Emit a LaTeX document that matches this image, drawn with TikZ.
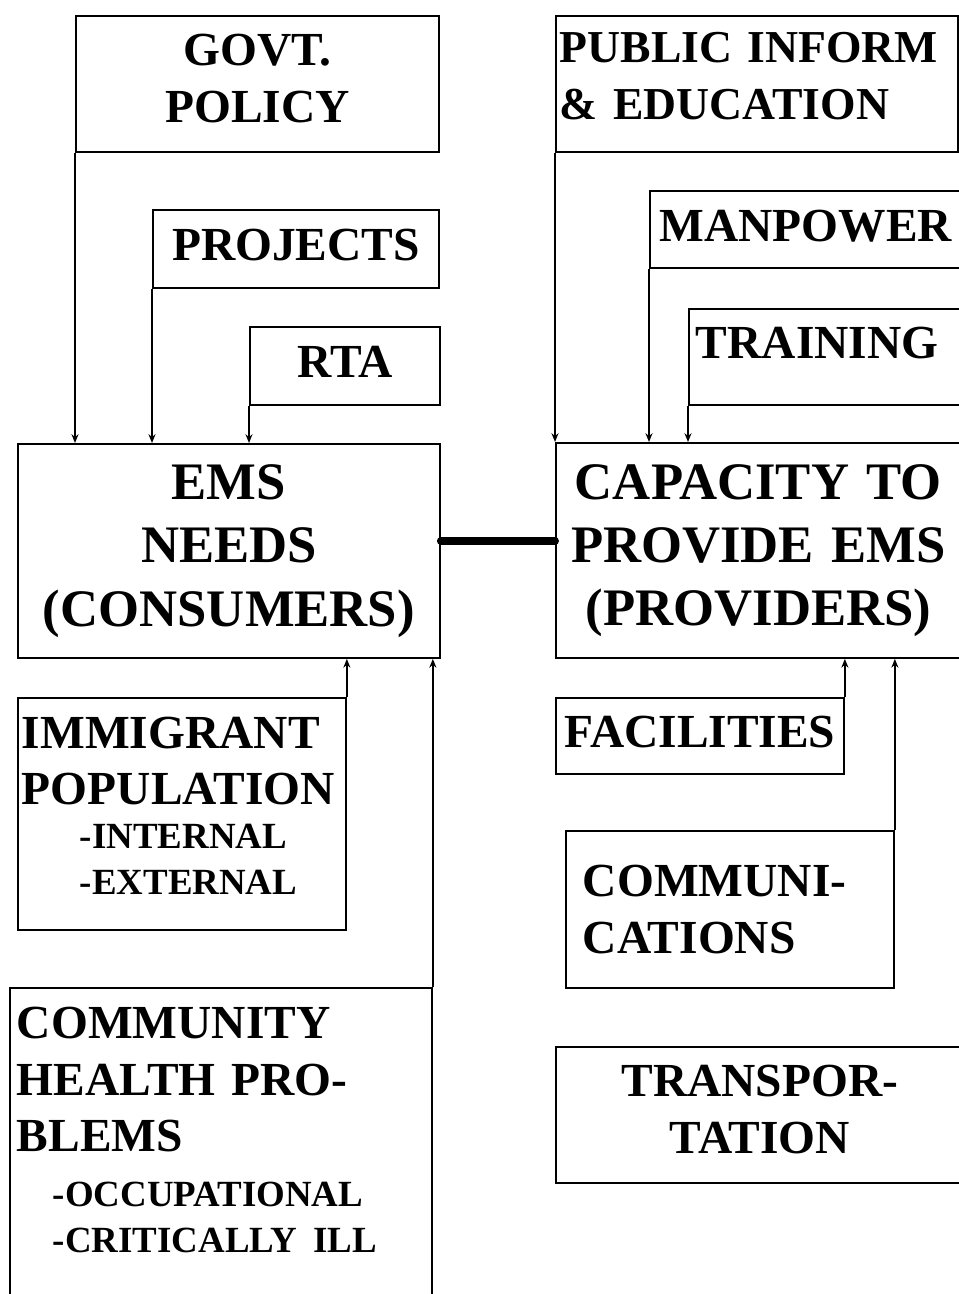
\documentclass[tikz,border=0pt]{standalone}
\usepackage{fontspec}
\setmainfont{Liberation Serif}
\usetikzlibrary{arrows.meta}
\newcommand\bigtext{\fontsize{30}{36}\selectfont\bfseries}
\newcommand\midtext{\fontsize{27}{32.3}\selectfont\bfseries}
\newcommand\subtext{\fontsize{21}{26}\selectfont\bfseries}

\begin{document}
\begin{tikzpicture}[x=0.02cm,y=-0.02cm,
    box/.style={draw,line width=1.1pt,anchor=north west,inner sep=0.1cm,font=\midtext},
    feed/.style={-{Stealth[length=5pt,width=4pt]},line width=0.8pt},
    link/.style={line width=4.5pt,line cap=round}]
  \useasboundingbox (0,0) rectangle (959,1294);
  \clip (0,0) rectangle (959,1294);

  \node[box,minimum width=7.26cm,minimum height=2.72cm,align=center,text depth=0.24cm] (1) at (75,15) {GOVT.\\POLICY};
  \node[box,minimum width=5.72cm,minimum height=1.56cm,text depth=0.16cm] (2) at (152,209) {PROJECTS};
  \node[box,minimum width=3.8cm,minimum height=1.56cm,text depth=0.16cm] (3) at (249,326) {RTA};
  \node[box,minimum width=8.44cm,minimum height=4.28cm,align=center,font=\bigtext] (4) at (17,443)
    {EMS\\NEEDS\\(CONSUMERS)};

  \node[box,text width=7.88cm,inner xsep=0.08cm,minimum height=2.72cm,align=left,text depth=1.46cm,
    font={\fontsize{26}{32.3}\selectfont\bfseries}] (5) at (555,15) {PUBLIC INFORM\\\& EDUCATION};
  \node[box,minimum width=6.24cm,minimum height=1.54cm,text depth=0.16cm] (6) at (649,190) {MANPOWER};
  \node[box,text width=6.0cm,inner xsep=0.14cm,minimum height=1.92cm,align=left,text depth=0.56cm] (7) at (688,308) {TRAINING};
  \node[box,text width=7.9cm,minimum height=4.3cm,align=center,font=\bigtext] (8) at (555,442)
    {CAPACITY TO\\PROVIDE EMS\\(PROVIDERS)};

  \node[box,minimum width=5.76cm,minimum height=1.52cm,text depth=0.16cm] (9) at (555,697) {FACILITIES};
  \node[box,text width=5.88cm,inner xsep=0.34cm,minimum height=3.14cm,align=left] (10) at (565,830)
    {COMMUNI-\\CATIONS};
  \node[box,minimum width=8.16cm,minimum height=2.72cm,align=center,text depth=0.24cm] (11) at (555,1046) {TRANSPOR-\\TATION};

  \node[box,text width=6.4cm,inner xsep=0.08cm,minimum height=4.64cm,align=left,text depth=3.26cm] (12) at (17,697)
    {IMMIGRANT\\POPULATION\\[-0.26cm]{\subtext\hspace*{1.16cm}-INTERNAL}\\[-0.22cm]{\subtext\hspace*{1.16cm}-EXTERNAL}};
  \node[box,text width=8.16cm,inner xsep=0.14cm,inner ysep=0.38cm,align=left] (13) at (9,987)
    {COMMUNITY\\HEALTH PRO-\\BLEMS\\[-0.04cm]{\subtext\hspace*{0.72cm}-OCCUPATIONAL}\\[-0.22cm]{\subtext\hspace*{0.72cm}-CRITICALLY ILL}\\[2cm]\mbox{}};

  \draw[feed] (1.south west) -- (1.south west |- 4.north);
  \draw[feed] (2.south west) -- (2.south west |- 4.north);
  \draw[feed] (3.south west) -- (3.south west |- 4.north);
  \draw[feed] (5.south west) -- (5.south west |- 8.north);
  \draw[feed] (6.south west) -- (6.south west |- 8.north);
  \draw[feed] (7.south west) -- (7.south west |- 8.north);
  \draw[feed] (12.north east) -- (12.north east |- 4.south);
  \draw[feed] (13.north east) -- (13.north east |- 4.south);
  \draw[feed] (9.north east) -- (9.north east |- 8.south);
  \draw[feed] (10.north east) -- (10.north east |- 8.south);
  \draw[link] ([yshift=0.2cm]4.east) -- ([yshift=0.2cm]4.east -| 8.west);
\end{tikzpicture}
\end{document}
